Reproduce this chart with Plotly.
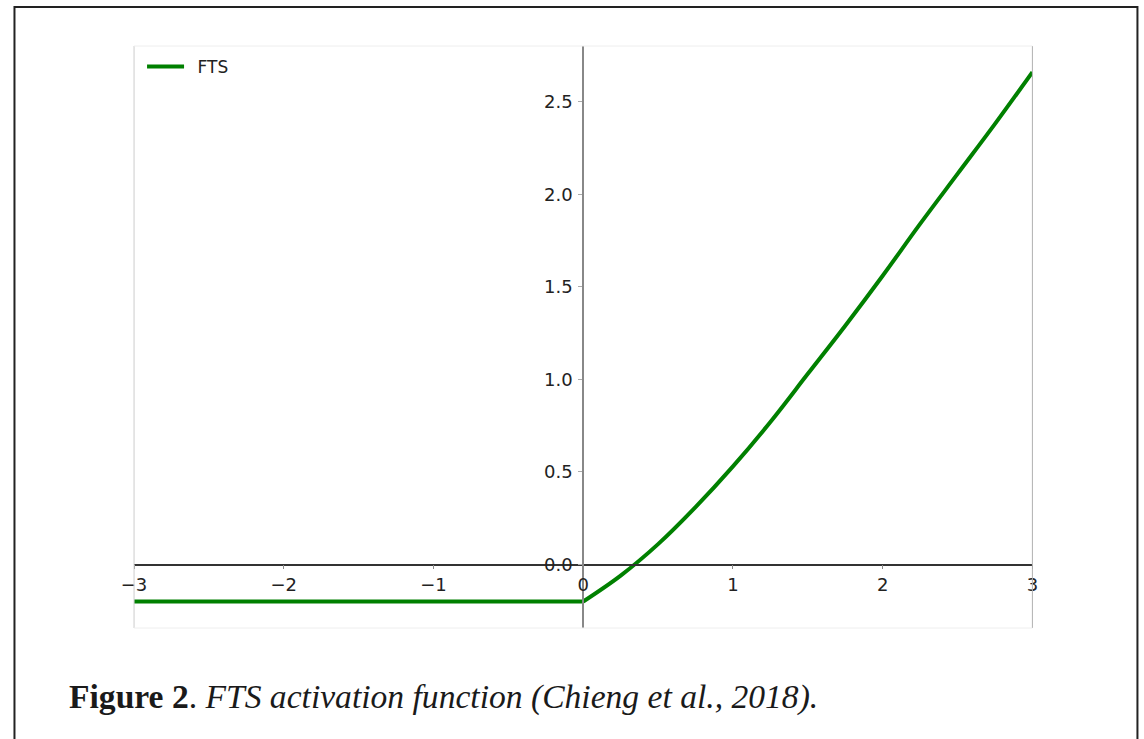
import plotly.graph_objects as go

# FTS curve, values
flat_x = [-3.0, -2.0, -1.0, 0.0]
flat_y = [-0.2, -0.2, -0.2, -0.2]
curve_x = [0.0, 0.25, 0.5, 0.75, 1.0, 1.25, 1.5, 1.75, 2.0, 2.25, 2.5, 2.75, 3.0]
curve_y = [-0.2, -0.06, 0.11, 0.31, 0.53, 0.77, 1.03, 1.29, 1.56, 1.84, 2.11, 2.38, 2.66]

x_ticks = [-3, -2, -1, 0, 1, 2, 3]
y_ticks = [0.0, 0.5, 1.0, 1.5, 2.0, 2.5]

caption = "<b>Figure 2</b>. <i>FTS activation function (Chieng et al., 2018).</i>"

W, H = 1144, 739
y_range = [-0.343, 2.801]


def px_x(p):
    # screen x pixel -> paper fraction (the capture shifts ~13px and squeezes 0.983 horizontally)
    return (p - 13) / 0.983 / W


def px_y(p):
    return (H - p) / H


dom_x = [px_x(134), px_x(1032)]
dom_y = [px_y(628), px_y(46)]
x0_paper = (dom_x[0] + dom_x[1]) / 2
y0_paper = dom_y[0] + (0 - y_range[0]) / (y_range[1] - y_range[0]) * (dom_y[1] - dom_y[0])

tick_font = dict(family="DejaVu Sans", size=18, color="#222222")
green = "#008000"

fig = go.Figure()
# en space in front of the name pushes the label away from the legend line
fig.add_trace(go.Scatter(x=flat_x, y=flat_y, mode="lines", name="\u2002FTS", legendgroup="fts",
                         line=dict(color=green, width=4)))
fig.add_trace(go.Scatter(x=curve_x, y=curve_y, mode="lines", name="FTS", legendgroup="fts",
                         showlegend=False, line=dict(color=green, width=4, shape="spline")))

fig.update_layout(
    width=W, height=H,
    margin=dict(l=0, r=0, t=0, b=0),
    paper_bgcolor="white", plot_bgcolor="white",
    xaxis=dict(domain=dom_x, range=[-3, 3], anchor="free", position=y0_paper,
               tickvals=x_ticks, ticks="outside", ticklen=4, tickcolor="#888",
               showline=True, linecolor="#333", linewidth=1.5,
               showgrid=False, zeroline=False, tickfont=tick_font),
    yaxis=dict(domain=dom_y, range=y_range, anchor="free", position=x0_paper,
               tickvals=y_ticks, tickformat=".1f", ticks="outside", ticklen=4, tickcolor="#aaa",
               ticklabelstandoff=2,
               showline=True, linecolor="#888", linewidth=2,
               showgrid=False, zeroline=False, tickfont=tick_font),
    legend=dict(x=px_x(142), y=dom_y[1] - 0.004, xanchor="left", yanchor="top", itemwidth=37,
                bgcolor="rgba(0,0,0,0)", font=dict(family="DejaVu Sans", size=17, color="#222222")),
    showlegend=True,
)

# light frame around the plot area
fig.add_shape(type="line", xref="paper", yref="paper", x0=dom_x[0], x1=dom_x[0], y0=dom_y[0], y1=dom_y[1],
              line=dict(color="#cccccc", width=1))
fig.add_shape(type="line", xref="paper", yref="paper", x0=dom_x[1], x1=dom_x[1], y0=dom_y[0], y1=dom_y[1],
              line=dict(color="#b0b0b0", width=1))
fig.add_shape(type="line", xref="paper", yref="paper", x0=dom_x[0], x1=dom_x[1], y0=dom_y[0], y1=dom_y[0],
              line=dict(color="#eeeeee", width=1))
fig.add_shape(type="line", xref="paper", yref="paper", x0=dom_x[0], x1=dom_x[1], y0=dom_y[1], y1=dom_y[1],
              line=dict(color="#eeeeee", width=1))

# outer page frame (left edge as far left as the capture allows)
fig.add_shape(type="rect", xref="paper", yref="paper", x0=1.5 / W, x1=px_x(1137), y0=-0.05, y1=px_y(7),
              line=dict(color="#222", width=2))

fig.add_annotation(text=caption, xref="paper", yref="paper", x=px_x(67), y=px_y(697),
                   xanchor="left", yanchor="middle", showarrow=False,
                   font=dict(family="Liberation Serif", size=33.6, color="#1a1a1a"))

fig.write_html("out.html", config={"displayModeBar": False},
               post_script="document.body.style.margin='0';document.body.style.overflow='hidden';")
